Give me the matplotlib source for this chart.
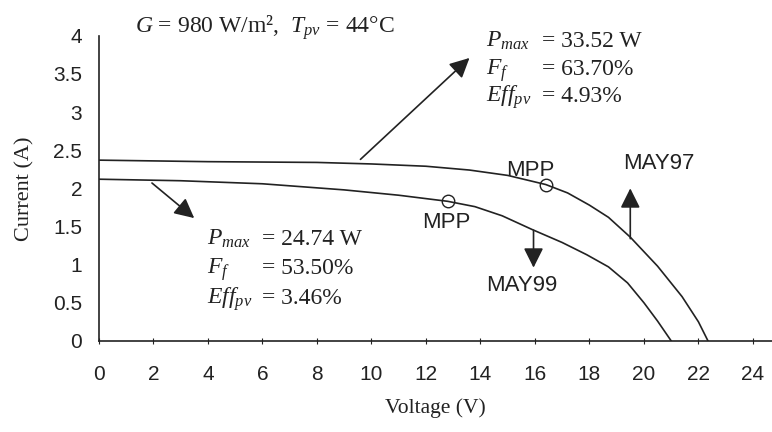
import matplotlib.pyplot as plt
import numpy as np

plt.rcParams['font.family'] = 'Liberation Sans'
plt.rcParams['mathtext.fontset'] = 'custom'
plt.rcParams['mathtext.rm'] = 'Liberation Serif'
plt.rcParams['mathtext.it'] = 'Liberation Serif:italic'

# I-V data
v97 = [0, 4, 8, 10, 12, 13.6, 15, 16.4, 17.2, 18.0, 18.7, 19.5, 20.5, 21.4, 22.0, 22.35]
i97 = [2.37, 2.35, 2.34, 2.32, 2.29, 2.24, 2.17, 2.05, 1.94, 1.78, 1.62, 1.36, 0.98, 0.58, 0.25, 0]
v99 = [0, 3, 6, 9, 11, 12.8, 13.8, 14.8, 15.9, 17.0, 17.9, 18.7, 19.4, 20.0, 20.5, 21.0]
i99 = [2.12, 2.10, 2.06, 1.98, 1.91, 1.83, 1.76, 1.64, 1.46, 1.29, 1.13, 0.97, 0.76, 0.50, 0.26, 0]
mpp97 = (16.4, 2.05)
mpp99 = (12.8, 1.83)

xticks = np.arange(0, 25, 2)
yticks = [0, 0.5, 1, 1.5, 2, 2.5, 3, 3.5, 4]
ytick_labels = ['0', '0.5', '1', '1.5', '2', '2.5', '3', '3.5', '4']

stats97 = ['= 33.52 W', '= 63.70%', '= 4.93%']
stats99 = ['= 24.74 W', '= 53.50%', '= 3.46%']
stat_names = ['$P_{max}$', '$F_{f}$', '$Eff_{pv}$']

ink = '#222222'
serif = 'Liberation Serif'

fig = plt.figure(figsize=(7.72, 4.32), dpi=100)
ax = fig.add_axes([0.128, 0.211, 0.872, 0.706])

ax.plot(v97, i97, color=ink, lw=1.2)
ax.plot(v99, i99, color=ink, lw=1.2)
ax.plot(*mpp97, 'o', mfc='none', mec=ink, ms=9, mew=1)
ax.plot(*mpp99, 'o', mfc='none', mec=ink, ms=9, mew=1)

ax.set_xlim(0, 24.7)
ax.set_ylim(0, 4)
ax.set_xticks(xticks)
ax.set_yticks(yticks)
ax.set_yticklabels(ytick_labels)
ax.tick_params(axis='x', direction='inout', length=5, width=0.8, pad=15, labelsize=15, colors=ink)
ax.tick_params(axis='y', length=0, pad=12, labelsize=15, colors=ink)
for s in ['top', 'right']:
    ax.spines[s].set_visible(False)
for s in ['left', 'bottom']:
    ax.spines[s].set_color(ink)
    ax.spines[s].set_linewidth(1.2)

ax.set_xlabel('Voltage (V)', family=serif, fontsize=15.5, color=ink, labelpad=10)
ax.set_ylabel('Current (A)', family=serif, fontsize=16, color=ink, labelpad=13)

fig.text(0.175, 0.924, '$G$ = 980 W/m²,  $T_{pv}$ = 44°C', family=serif,
         fontsize=17, color=ink, va='baseline')

arrow = dict(arrowstyle='-|>,head_length=0.5,head_width=0.25', mutation_scale=24,
             lw=1.2, color=ink, shrinkA=0, shrinkB=0)
ax.annotate('', xy=(13.6, 3.71), xytext=(9.6, 2.38), arrowprops=arrow)
ax.annotate('', xy=(3.5, 1.61), xytext=(1.95, 2.07), arrowprops=arrow)
ax.annotate('', xy=(19.5, 2.0), xytext=(19.5, 1.34), arrowprops=arrow)
ax.annotate('', xy=(15.95, 0.96), xytext=(15.95, 1.45), arrowprops=arrow)

ax.text(15.85, 2.24, 'MPP', ha='center', va='center', fontsize=16, color=ink)
ax.text(12.75, 1.55, 'MPP', ha='center', va='center', fontsize=16, color=ink)
ax.text(20.55, 2.33, 'MAY97', ha='center', va='center', fontsize=16, color=ink)
ax.text(15.5, 0.73, 'MAY99', ha='center', va='center', fontsize=16, color=ink)

rows97 = [3.853, 3.486, 3.132]
rows99 = [1.258, 0.878, 0.485]
for name, s97, s99, y97, y99 in zip(stat_names, stats97, stats99, rows97, rows99):
    ax.text(14.19, y97, name, family=serif, fontsize=17, color=ink, va='baseline')
    ax.text(16.27, y97, s97, family=serif, fontsize=17, color=ink, va='baseline')
    ax.text(3.97, y99, name, family=serif, fontsize=17, color=ink, va='baseline')
    ax.text(6.0, y99, s99, family=serif, fontsize=17, color=ink, va='baseline')

fig.savefig('out.png', dpi=100)
